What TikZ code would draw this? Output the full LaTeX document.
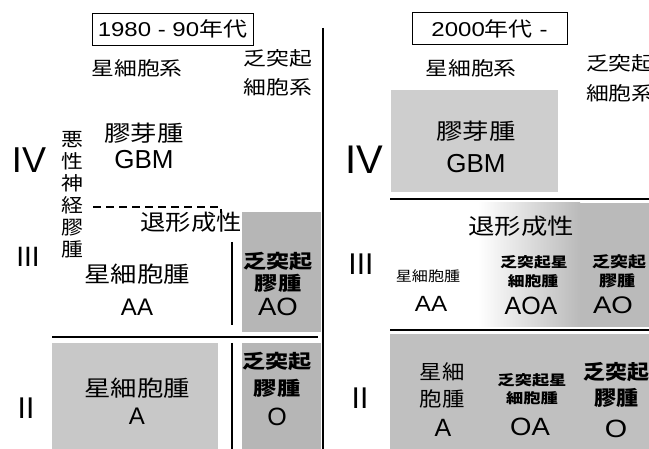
\documentclass[tikz,border=0pt]{standalone}
\usepackage{fontspec}
\usepackage{graphicx}
\setmainfont{Liberation Sans}
\newfontfamily\jp{Noto Sans CJK JP}
\newcommand\fs[1]{\fontsize{#1}{#1}\selectfont}
\newcommand\sx[2]{\scalebox{#1}[1]{#2}}
\definecolor{gA}{RGB}{200,200,200}
\definecolor{gAO}{RGB}{182,182,182}
\definecolor{gGBM}{RGB}{206,206,206}
\definecolor{gII}{RGB}{192,192,192}
\definecolor{gIII}{RGB}{186,186,186}
\tikzset{
  t/.style={inner sep=0pt, outer sep=0pt},
  rule/.style={line width=1.8pt, black},
  titlebox/.style={draw, line width=0.8pt, inner sep=0pt, minimum height=32pt},
}
\begin{document}
\begin{tikzpicture}[x=1pt,y=-1pt]
\useasboundingbox (0,0) rectangle (649,449);
\clip (0,0) rectangle (649,449);
\fill[white] (0,0) rectangle (649,449);
% ---------- left panel fills ----------
\fill[gA] (52,343) rectangle (218,449);
\fill[gAO] (242,212) rectangle (321,332);
\fill[gAO] (242,343) rectangle (321,449);
% ---------- right panel fills ----------
\fill[gGBM] (391,90) rectangle (558,192);
\shade[left color=white, right color=gIII] (478,203) rectangle (580,327);
\fill[gIII] (579.5,203) rectangle (649,327);
\fill[gII] (390,334) rectangle (649,449);
% ---------- rules ----------
\draw[rule] (323,28) -- (323,449);
\draw[line width=1.6pt] (52,337) -- (318,337);
\draw[rule] (232,242) -- (232,325);
\draw[rule] (232,343) -- (232,449);
\draw[line width=1.6pt, dash pattern=on 8pt off 5pt] (93,207) -- (221,207) -- (221,213);
\draw[rule] (390,199) -- (649,199);
\draw[rule] (390,330) -- (649,330);
% ---------- titles ----------
\node[titlebox, minimum width=161pt, font=\fs{20}] (tl) at (172.5,29) {\sx{1.2}{1980 - 90{\jp 年代}}};
\node[titlebox, minimum width=155pt, font=\fs{20}] (tr) at (489.5,28.5) {\sx{1.2}{2000{\jp 年代} -}};
% ---------- left headers ----------
\node[t, font=\jp\fs{19}] (lastro) at (137,68) {\sx{1.2}{星細胞系}};
\node[t, font=\jp\fs{19}] (loligoa) at (278,58) {\sx{1.2}{乏突起}};
\node[t, font=\jp\fs{19}] (loligob) at (278,87) {\sx{1.2}{細胞系}};
% ---------- left grade IV ----------
\node[t, font=\fs{36}] (lIV) at (29,160) {IV};
\node[t, font=\jp\fs{22}] (lGBMj) at (144,133) {\sx{1.2}{膠芽腫}};
\node[t, font=\fs{26}] (lGBM) at (144,160) {GBM};
\node[t, font=\jp\fontsize{19}{22}\selectfont, align=center] (lvert) at (72,195)
  {\sx{1.15}{悪}\\\sx{1.15}{性}\\\sx{1.15}{神}\\\sx{1.15}{経}\\\sx{1.15}{膠}\\\sx{1.15}{腫}};
% ---------- left grade III ----------
\node[t, font=\jp\fs{22}] (lana) at (191,222) {\sx{1.15}{退形成性}};
\node[t, font=\fs{28}] (lIII) at (28,257) {III};
\node[t, font=\jp\fs{22}] (lAAj) at (137,274) {\sx{1.2}{星細胞腫}};
\node[t, font=\fs{24}] (lAA) at (137,307) {AA};
\node[t, font=\jp\bfseries\fs{19}] (lAOa) at (278,261) {\sx{1.22}{乏突起}};
\node[t, font=\jp\bfseries\fs{19}] (lAOb) at (278,283) {\sx{1.22}{膠腫}};
\node[t, font=\fs{25}] (lAO) at (278,307) {\sx{1.1}{AO}};
% ---------- left grade II ----------
\node[t, font=\fs{30}] (lII) at (26,408) {II};
\node[t, font=\jp\fs{22}] (lAj) at (137,388) {\sx{1.2}{星細胞腫}};
\node[t, font=\fs{24}] (lA) at (137,416) {A};
\node[t, font=\jp\bfseries\fs{19}] (lOa) at (277,361) {\sx{1.22}{乏突起}};
\node[t, font=\jp\bfseries\fs{19}] (lOb) at (277,388) {\sx{1.22}{膠腫}};
\node[t, font=\fs{25}] (lO) at (277,417) {O};
% ---------- right headers ----------
\node[t, font=\jp\fs{19}] (rastro) at (471,68) {\sx{1.2}{星細胞系}};
\node[t, font=\jp\fs{19}, anchor=west] (roligoa) at (586,63) {\sx{1.2}{乏突起}};
\node[t, font=\jp\fs{19}, anchor=west] (roligob) at (586,93) {\sx{1.2}{細胞系}};
% ---------- right grade IV ----------
\node[t, font=\fs{40}] (rIV) at (364,160) {IV};
\node[t, font=\jp\fs{22}] (rGBMj) at (476,131) {\sx{1.2}{膠芽腫}};
\node[t, font=\fs{26}] (rGBM) at (476,164) {GBM};
% ---------- right grade III ----------
\node[t, font=\jp\fs{22}] (rana) at (521,226) {\sx{1.2}{退形成性}};
\node[t, font=\fs{30}] (rIII) at (361,264) {III};
\node[t, font=\jp\fs{14}] (rAAj) at (428,276) {\sx{1.15}{星細胞腫}};
\node[t, font=\fs{22}] (rAA) at (431,304) {\sx{1.1}{AA}};
\node[t, font=\jp\bfseries\fs{14}] (rAOAa) at (534,262) {\sx{1.2}{乏突起星}};
\node[t, font=\jp\bfseries\fs{14}] (rAOAb) at (533,281) {\sx{1.2}{細胞腫}};
\node[t, font=\fs{25}] (rAOA) at (531,306) {AOA};
\node[t, font=\jp\bfseries\fs{15}] (rAOa) at (619,262) {\sx{1.2}{乏突起}};
\node[t, font=\jp\bfseries\fs{15}] (rAOb) at (617,281) {\sx{1.2}{膠腫}};
\node[t, font=\fs{24}] (rAO) at (613,305) {\sx{1.15}{AO}};
% ---------- right grade II ----------
\node[t, font=\fs{30}] (rII) at (360,398) {II};
\node[t, font=\jp\fs{20}] (rAa) at (442,372) {\sx{1.12}{星細}};
\node[t, font=\jp\fs{20}] (rAb) at (442,399) {\sx{1.12}{胞腫}};
\node[t, font=\fs{25}] (rA) at (443,428) {A};
\node[t, font=\jp\bfseries\fs{14}] (rOAa) at (532,380) {\sx{1.23}{乏突起星}};
\node[t, font=\jp\bfseries\fs{14}] (rOAb) at (532,398) {\sx{1.23}{細胞腫}};
\node[t, font=\fs{25}] (rOA) at (530,427) {\sx{1.1}{OA}};
\node[t, font=\jp\bfseries\fs{20}] (rOa) at (616,372) {\sx{1.1}{乏突起}};
\node[t, font=\jp\bfseries\fs{20}] (rOb) at (616,398) {\sx{1.1}{膠腫}};
\node[t, font=\fs{25}] (rO) at (616,429) {\sx{1.15}{O}};
\end{tikzpicture}
\end{document}
